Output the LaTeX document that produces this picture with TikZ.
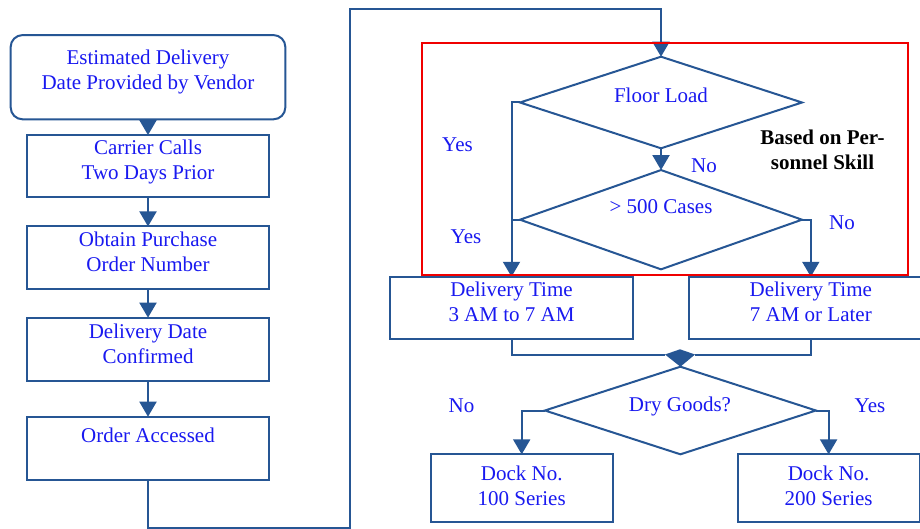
\documentclass[tikz,border=0pt]{standalone}
\usepackage{fontspec}
\setmainfont{Liberation Serif}
\usetikzlibrary{arrows.meta,shapes.geometric}
\definecolor{lineblue}{RGB}{38,86,148}
\definecolor{txtblue}{RGB}{25,25,240}
\definecolor{redbox}{RGB}{240,0,0}
\begin{document}
\begin{tikzpicture}[x=1pt,y=-1pt,
  box/.style={draw=lineblue, line width=2pt, fill=white, inner sep=0pt, outer sep=0pt, rectangle},
  dia/.style={draw=lineblue, line width=2pt, fill=white, inner sep=0pt, outer sep=0pt, diamond},
  txt/.style={text=txtblue, font=\fontsize{21}{25}\selectfont, align=center, inner sep=0pt},
  boldtxt/.style={text=black, font=\fontsize{21}{25}\selectfont\bfseries, align=center, inner sep=0pt},
  conn/.style={draw=lineblue, line width=2pt},
  arr/.style={conn, -{Triangle[length=15pt,width=17pt]}},
  redframe/.style={draw=redbox, line width=2pt, inner sep=0pt, outer sep=0pt, rectangle}
]
\useasboundingbox (0,0) rectangle (920,529);
\fill[white] (0,0) rectangle (920,529);
\clip (0,0) rectangle (920,529);

% left column boxes
\node[box, rounded corners=12pt, minimum width=274.7pt, minimum height=84.3pt] (b1) at (148,77.2) {};
\node[box, minimum width=242.6pt, minimum height=62.3pt] (b2) at (148,166.2) {};
\node[box, minimum width=242.6pt, minimum height=62.3pt] (b3) at (148,257.6) {};
\node[box, minimum width=242.6pt, minimum height=63.3pt] (b4) at (148,349.3) {};
\node[box, minimum width=242.6pt, minimum height=63.6pt] (b5) at (148,448.5) {};

% right part
\node[dia, minimum width=282pt, minimum height=91.6pt] (d1) at (661,102.5) {};
\node[dia, minimum width=282pt, minimum height=99.3pt] (d2) at (661,219.7) {};
\node[box, minimum width=243.7pt, minimum height=62.5pt] (b6) at (511.5,308) {};
\node[box, minimum width=244.4pt, minimum height=62.5pt] (b7) at (810.8,308) {};
\node[dia, minimum width=271pt, minimum height=87.6pt] (d3) at (680.4,410.5) {};
\node[box, minimum width=182pt, minimum height=67.7pt] (b8) at (521.7,488.2) {};
\node[box, minimum width=182pt, minimum height=67.7pt] (b9) at (828.6,488.2) {};

% texts
\node[txt] (t1) at (148,71.7) {Estimated Delivery\strut\\Date Provided by Vendor\strut};
\node[txt] (t2) at (148,162.5) {Carrier Calls\strut\\Two Days Prior\strut};
\node[txt] (t3) at (148,254) {Obtain Purchase\strut\\Order Number\strut};
\node[txt] (t4) at (148,345.8) {Delivery Date\strut\\Confirmed\strut};
\node[txt] (t5) at (148,437.7) {Order Accessed\strut};
\node[txt] (t6) at (511.5,303.5) {Delivery Time\strut\\3 AM to 7 AM\strut};
\node[txt] (t7) at (810.8,303.5) {Delivery Time\strut\\7 AM or Later\strut};
\node[txt] (t8) at (521.7,487.9) {Dock No.\strut\\100 Series\strut};
\node[txt] (t9) at (828.6,487.9) {Dock No.\strut\\200 Series\strut};
\node[txt] (td1) at (661,97.7) {Floor Load\strut};
\node[txt] (td2) at (661,208.3) {> 500 Cases\strut};
\node[txt] (td3) at (680,406.7) {Dry Goods?\strut};

% labels
\node[txt] (y1) at (457.5,146.7) {Yes\strut};
\node[txt] (y2) at (466,239) {Yes\strut};
\node[txt] (n1) at (704,167.7) {No\strut};
\node[txt] (n2) at (842,224.3) {No\strut};
\node[txt] (n3) at (461.5,407.7) {No\strut};
\node[txt] (y3) at (870,407.7) {Yes\strut};
\node[boldtxt] (skill) at (822.5,151.7) {Based on Per-\strut\\sonnel Skill\strut};

% connectors left column
\draw[arr] (b1.south) -- (b2.north);
\draw[arr] (b2.south) -- (b3.north);
\draw[arr] (b3.south) -- (b4.north);
\draw[arr] (b4.south) -- (b5.north);
\coordinate (c2) at (350,527.5);
\coordinate (c3) at (350,9);
\draw[arr] (b5.south) |- (c2) -- (c3) -| (d1.north);

% decisions
\draw[arr] (d1.south) -- (d2.north);
\draw[arr] (d1.west) -| (b6.north);
\draw[conn] (d2.west) -- (d2.west -| b6.north);
\draw[arr] (d2.east) -| (b7.north);

% merge junction
\coordinate (mR) at (665,354.5);
\coordinate (mL) at (695,354.5);
\coordinate (mT) at (680,349.3);
\draw[conn] (b6.south) |- (mR);
\draw[conn] (b7.south) |- (mL);
\fill[lineblue] (mR) -- (mT) -- (mL) -- (d3.north) -- cycle;

\draw[arr] (d3.west) -| (b8.north);
\draw[arr] (d3.east) -| (b9.north);

% red group frame
\node[redframe, minimum width=485.6pt, minimum height=232pt] (grp) at (664.8,159) {};
\end{tikzpicture}
\end{document}
